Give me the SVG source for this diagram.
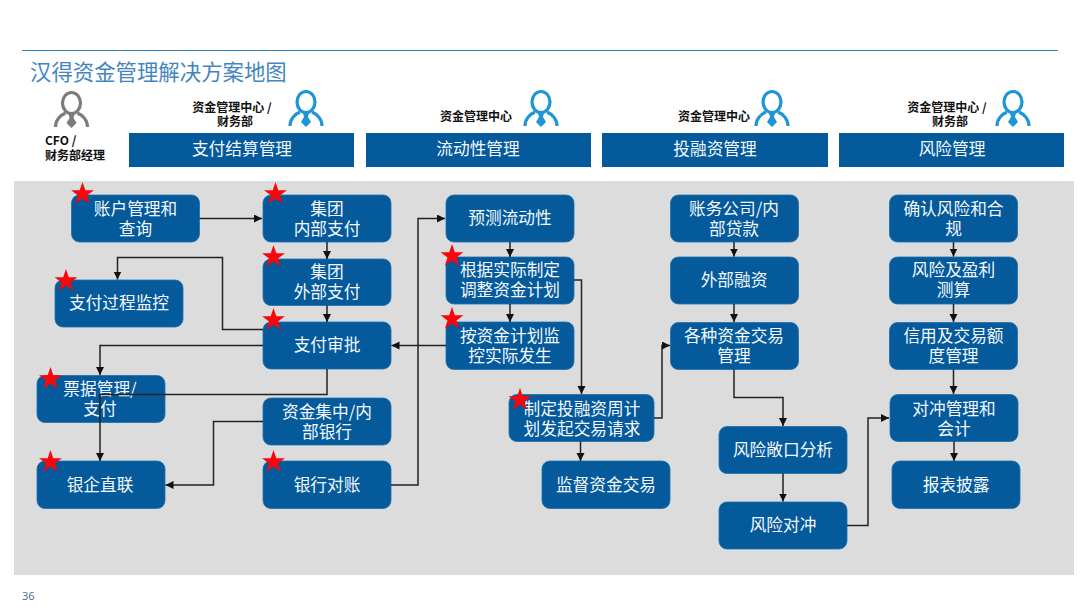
<svg xmlns="http://www.w3.org/2000/svg" xmlns:xlink="http://www.w3.org/1999/xlink" width="1080" height="607" viewBox="0 0 1080 607">
<style>
text{font-family:"Noto Sans CJK SC","Open Sans",sans-serif}
.node rect,.bar{fill:#045a9b}
.node rect{stroke:#1a6fae;stroke-width:0.8}
.nt{fill:#f4f9fd;font-size:16.7px;text-anchor:middle}
.role{fill:#111;font-size:12px;font-weight:700;text-anchor:middle}
.c{fill:none;stroke:#222;stroke-width:1.5;marker-end:url(#a)}
.star{fill:#f8060c}
</style>
<defs>
<marker id="a" markerUnits="userSpaceOnUse" markerWidth="9" markerHeight="9" refX="8" refY="4" orient="auto"><path d="M0,0L8,4L0,8Z" fill="#111"/></marker>
<polygon id="s" class="star" points="0,-12 2.8,-3.7 11.4,-3.7 4.5,1.4 7.1,9.7 0,4.6 -7.1,9.7 -4.5,1.4 -11.4,-3.7 -2.8,-3.7"/>
<g id="p">
<ellipse cx="0" cy="0" rx="9" ry="10.5" fill="none" stroke-width="3.2" stroke="currentColor"/>
<path d="M-16,24C-16,17 -11,12 -6,10M16,24C16,17 11,12 6,10" fill="none" stroke-width="3.2" stroke="currentColor"/>
<path d="M-3,11H3L2,15L5,20L0,25L-5,20L-2,15Z" fill="currentColor"/>
</g>
</defs>
<rect width="1080" height="607" fill="#fff"/>
<line x1="22" y1="50.5" x2="1058" y2="50.5" stroke="#2f7fb9" stroke-width="1"/>
<text x="30" y="80" font-size="21.4" fill="#4585bf">汉得资金管理解决方案地图</text>

<g id="roles">
<use href="#p" x="71.5" y="103" color="#7b7b7b"/>
<use href="#p" x="306" y="102" color="#1f94d6"/>
<use href="#p" x="541" y="102" color="#1f94d6"/>
<use href="#p" x="772" y="102" color="#1f94d6"/>
<use href="#p" x="1013" y="102" color="#1f94d6"/>
<text class="role" x="45" y="145" style="text-anchor:start">CFO /</text>
<text class="role" x="45" y="160" style="text-anchor:start">财务部经理</text>
<text class="role" x="232" y="112" xml:space="preserve">资金管理中心 /</text>
<text class="role" x="235" y="126">财务部</text>
<text class="role" x="476" y="121">资金管理中心</text>
<text class="role" x="714" y="121">资金管理中心</text>
<text class="role" x="947" y="112">资金管理中心 /</text>
<text class="role" x="950" y="126">财务部</text>
</g>

<g id="headers">
<g id="h1"><rect class="bar" x="129" y="133" width="225" height="34"/><text class="nt" x="242" y="155">支付结算管理</text></g>
<g id="h2"><rect class="bar" x="366" y="133" width="225" height="34"/><text class="nt" x="478" y="155">流动性管理</text></g>
<g id="h3"><rect class="bar" x="602" y="133" width="226" height="34"/><text class="nt" x="715" y="155">投融资管理</text></g>
<g id="h4"><rect class="bar" x="839" y="133" width="225" height="34"/><text class="nt" x="952" y="155">风险管理</text></g>
</g>

<rect x="14" y="181" width="1060" height="394" fill="#dcdcdc"/>

<g id="n1" class="node"><rect x="71.5" y="195" width="128" height="47" rx="8"/><text class="nt" x="135.5" y="215">账户管理和</text><text class="nt" x="135.5" y="235">查询</text></g>
<g id="n2" class="node"><rect x="263" y="195" width="128" height="47" rx="8"/><text class="nt" x="327" y="215">集团</text><text class="nt" x="327" y="235">内部支付</text></g>
<g id="n3" class="node"><rect x="263" y="259" width="128" height="46.5" rx="8"/><text class="nt" x="327" y="278">集团</text><text class="nt" x="327" y="298">外部支付</text></g>
<g id="n4" class="node"><rect x="55" y="280" width="128" height="47" rx="8"/><text class="nt" x="119" y="309">支付过程监控</text></g>
<g id="n5" class="node"><rect x="263" y="322" width="128" height="47" rx="8"/><text class="nt" x="327" y="351">支付审批</text></g>
<g id="n6" class="node"><rect x="37" y="375.5" width="128" height="47" rx="8"/><text class="nt" x="100" y="395">票据管理/</text><text class="nt" x="100" y="415">支付</text></g>
<g id="n7" class="node"><rect x="263" y="398" width="128" height="47" rx="8"/><text class="nt" x="327" y="418">资金集中/内</text><text class="nt" x="327" y="438">部银行</text></g>
<g id="n8" class="node"><rect x="37" y="461" width="128" height="47.5" rx="8"/><text class="nt" x="100" y="491">银企直联</text></g>
<g id="n9" class="node"><rect x="263" y="461" width="128" height="47.5" rx="8"/><text class="nt" x="327" y="491">银行对账</text></g>
<g id="n10" class="node"><rect x="446" y="195" width="128" height="47" rx="8"/><text class="nt" x="510" y="224">预测流动性</text></g>
<g id="n11" class="node"><rect x="446" y="257" width="128" height="47" rx="8"/><text class="nt" x="510" y="276">根据实际制定</text><text class="nt" x="510" y="296">调整资金计划</text></g>
<g id="n12" class="node"><rect x="446" y="322" width="128" height="47.5" rx="8"/><text class="nt" x="510" y="342">按资金计划监</text><text class="nt" x="510" y="362">控实际发生</text></g>
<g id="n13" class="node"><rect x="509" y="394.5" width="145" height="47" rx="8"/><text class="nt" x="582" y="415">制定投融资周计</text><text class="nt" x="582" y="435">划发起交易请求</text></g>
<g id="n14" class="node"><rect x="542" y="461" width="128" height="47.5" rx="8"/><text class="nt" x="606" y="491">监督资金交易</text></g>
<g id="n15" class="node"><rect x="670.5" y="195" width="128" height="47" rx="8"/><text class="nt" x="734" y="215">账务公司/内</text><text class="nt" x="734" y="235">部贷款</text></g>
<g id="n16" class="node"><rect x="670.5" y="257" width="128" height="47" rx="8"/><text class="nt" x="734" y="286">外部融资</text></g>
<g id="n17" class="node"><rect x="670.5" y="322.5" width="128" height="47" rx="8"/><text class="nt" x="734" y="342">各种资金交易</text><text class="nt" x="734" y="362">管理</text></g>
<g id="n18" class="node"><rect x="719" y="426.5" width="128" height="47" rx="8"/><text class="nt" x="783" y="456">风险敞口分析</text></g>
<g id="n19" class="node"><rect x="719" y="502" width="128" height="47" rx="8"/><text class="nt" x="783" y="531">风险对冲</text></g>
<g id="n20" class="node"><rect x="889.5" y="195" width="128" height="47" rx="8"/><text class="nt" x="953.5" y="215">确认风险和合</text><text class="nt" x="953.5" y="235">规</text></g>
<g id="n21" class="node"><rect x="889.5" y="257" width="128" height="47" rx="8"/><text class="nt" x="953.5" y="276">风险及盈利</text><text class="nt" x="953.5" y="296">测算</text></g>
<g id="n22" class="node"><rect x="889.5" y="322.5" width="128" height="47" rx="8"/><text class="nt" x="953.5" y="342">信用及交易额</text><text class="nt" x="953.5" y="362">度管理</text></g>
<g id="n23" class="node"><rect x="890" y="394.5" width="128" height="47" rx="8"/><text class="nt" x="954" y="415">对冲管理和</text><text class="nt" x="954" y="435">会计</text></g>
<g id="n24" class="node"><rect x="892" y="461" width="128" height="47.5" rx="8"/><text class="nt" x="956" y="491">报表披露</text></g>

<g id="connectors">
<path class="c" d="M199.5,218.5H262"/>
<path class="c" d="M327,242V259"/>
<path class="c" d="M327,305.5V322"/>
<path class="c" d="M263,329.5H222.5V257.5H117.5V279.5"/>
<path class="c" d="M263,345.5H100V375"/>
<path class="c" d="M327,369V394.5H100V461"/>
<path class="c" d="M263,421.5H213.5V485H165.5"/>
<path class="c" d="M391,485H418V218.5H445"/>
<path class="c" d="M446,345.5H391.5"/>
<path class="c" d="M510,242V257"/>
<path class="c" d="M510,304V322"/>
<path class="c" d="M574,280H581.5V394"/>
<path class="c" d="M654,418H662V345.5H670"/>
<path class="c" d="M580.5,441.5V461"/>
<path class="c" d="M734,242V256.5"/>
<path class="c" d="M734,304V322"/>
<path class="c" d="M734,369.5V397.5H783V426"/>
<path class="c" d="M783,473.5V501.5"/>
<path class="c" d="M847,525.5H868V418H889"/>
<path class="c" d="M953.5,242V256.5"/>
<path class="c" d="M953.5,304V322"/>
<path class="c" d="M953.5,369.5V394"/>
<path class="c" d="M954,441.5V461"/>
</g>

<g id="stars">
<use href="#s" x="82.5" y="194"/>
<use href="#s" x="275.5" y="194"/>
<use href="#s" x="273.5" y="257"/>
<use href="#s" x="66" y="281"/>
<use href="#s" x="273.5" y="320"/>
<use href="#s" x="50.5" y="379"/>
<use href="#s" x="50.5" y="462"/>
<use href="#s" x="273.5" y="462"/>
<use href="#s" x="452" y="256"/>
<use href="#s" x="452" y="319"/>
<use href="#s" x="520" y="400"/>
</g>

<text x="22" y="600" font-size="11" fill="#4a6a8a" style="font-family:'Open Sans',sans-serif">36</text>
</svg>
